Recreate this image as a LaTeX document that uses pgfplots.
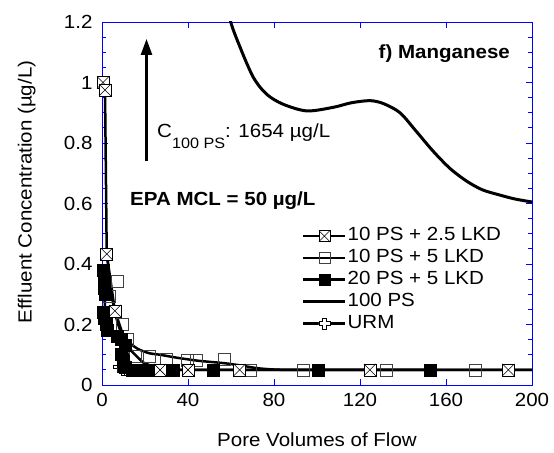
\documentclass[border=0pt]{standalone}
\usepackage{fontspec}
\setmainfont{Liberation Sans}[FakeStretch=1.08]
\usepackage{pgfplots}
\pgfplotsset{compat=1.18}
\usetikzlibrary{arrows.meta}

\pgfdeclareplotmark{boxx}{%
  \pgfpathrectangle{\pgfpoint{-\pgfplotmarksize}{-\pgfplotmarksize}}{\pgfpoint{2\pgfplotmarksize}{2\pgfplotmarksize}}%
  \pgfusepathqfillstroke
  \pgfpathmoveto{\pgfpoint{-\pgfplotmarksize}{-\pgfplotmarksize}}%
  \pgfpathlineto{\pgfpoint{\pgfplotmarksize}{\pgfplotmarksize}}%
  \pgfpathmoveto{\pgfpoint{-\pgfplotmarksize}{\pgfplotmarksize}}%
  \pgfpathlineto{\pgfpoint{\pgfplotmarksize}{-\pgfplotmarksize}}%
  \pgfusepathqstroke}
\pgfdeclareplotmark{pluso}{%
  \pgfmathsetlengthmacro{\a}{\pgfplotmarksize}%
  \pgfmathsetlengthmacro{\b}{0.35*\pgfplotmarksize}%
  \pgfpathmoveto{\pgfpoint{\b}{\a}}%
  \pgfpathlineto{\pgfpoint{\b}{\b}}%
  \pgfpathlineto{\pgfpoint{\a}{\b}}%
  \pgfpathlineto{\pgfpoint{\a}{-\b}}%
  \pgfpathlineto{\pgfpoint{\b}{-\b}}%
  \pgfpathlineto{\pgfpoint{\b}{-\a}}%
  \pgfpathlineto{\pgfpoint{-\b}{-\a}}%
  \pgfpathlineto{\pgfpoint{-\b}{-\b}}%
  \pgfpathlineto{\pgfpoint{-\a}{-\b}}%
  \pgfpathlineto{\pgfpoint{-\a}{\b}}%
  \pgfpathlineto{\pgfpoint{-\b}{\b}}%
  \pgfpathlineto{\pgfpoint{-\b}{\a}}%
  \pgfpathclose
  \pgfusepathqfillstroke}

\begin{document}
\fontsize{19bp}{22bp}\selectfont
\begin{tikzpicture}
\begin{axis}[
  scale only axis, width=430bp, height=363bp,
  xmin=0, xmax=200, ymin=0, ymax=1.2,
  xtick={0,40,80,120,160,200},
  ytick={0,0.2,0.4,0.6,0.8,1,1.2},
  minor y tick num=3,
  axis line style={blue, line width=0.8bp},
  every tick/.style={blue, line width=0.8bp},
  major tick length=6bp, minor tick length=4bp,
  tick align=inside,
  /pgf/number format/assume math mode=true,
  tick label style={font=\fontsize{19bp}{19bp}\selectfont, black},
  xticklabel style={yshift=-2bp},
  yticklabel style={xshift=-3bp},
  every axis x label/.style={at={(axis description cs:0.5,-0.152)}, anchor=center},
  every axis y label/.style={at={(axis description cs:-0.175,0.532)}, rotate=90, anchor=center},
  xlabel={Pore Volumes of Flow},
  ylabel={Effluent Concentration (µg/L)},
  label style={font=\fontsize{19bp}{19bp}\selectfont},
  clip mode=individual,
  legend cell align=left,
  legend image code/.code={\draw[mark repeat=2,mark phase=2,#1] plot coordinates {(0bp,0bp) (21bp,0bp) (42bp,0bp)};},
  legend style={draw=none, fill=none, at={(axis cs:93,0.525)}, anchor=north west,
    inner sep=0pt, row sep=2.3bp, font=\fontsize{19bp}{19bp}\selectfont,
    nodes={inner sep=1bp, text height=13.5bp, text depth=4bp}},
]
\addlegendimage{black, line width=2.5bp, mark=boxx, mark size=5.5bp, mark options={fill=white, draw=black, line width=0.6bp, solid}}
\addlegendentry{10 PS + 2.5 LKD}
\addlegendimage{black, line width=2.5bp, mark=square, mark size=5.5bp, mark options={draw=black!75, line width=0.6bp, solid}}
\addlegendentry{10 PS + 5 LKD}
\addlegendimage{black, line width=2.5bp, mark=square*, mark size=5.5bp, mark options={fill=black, draw=black, line width=0.6bp}}
\addlegendentry{20 PS + 5 LKD}
\addlegendimage{black, line width=2.5bp}
\addlegendentry{100 PS}
\addlegendimage{black, line width=2.5bp, mark=pluso, mark size=5.5bp, mark options={fill=white, draw=black, line width=0.6bp}}
\addlegendentry{URM}

% 100 PS
\addplot[forget plot, black, line width=3bp, smooth, tension=0.5] coordinates {
(57,1.33) (59.5,1.21) (64.2,1.117) (70.4,1.017) (76.6,0.961) (84.3,0.928)
(95.3,0.906) (107.6,0.918) (116,0.933) (124.7,0.94) (131,0.93) (138.6,0.9)
(146,0.84) (154,0.773) (162,0.715) (169.8,0.673) (177,0.645) (185,0.628)
(192,0.615) (200,0.605)};

% URM (mostly hidden)
\addplot[forget plot, black, line width=2.5bp] coordinates {
(8,0.06) (10,0.05) (11.5,0.05) (13,0.05)};
\addplot[forget plot, only marks, mark=pluso, mark size=5.5bp, mark options={fill=white, draw=black, line width=0.6bp}] coordinates {
(8,0.06) (10,0.05) (11.5,0.05) (13,0.05)};

% lines
\addplot[forget plot, black, line width=2.5bp, smooth, tension=0.4] coordinates {
(2.5,0.42) (4,0.32) (6,0.24) (8,0.19) (10,0.16) (13,0.138) (17,0.118) (22,0.105)
(27,0.1) (35,0.09) (45,0.08) (57,0.072) (65,0.064) (73,0.055) (85,0.05) (120,0.05) (200,0.05)};
\addplot[forget plot, black, line width=2.5bp] coordinates {
(0.5,1.0) (1.4,0.975) (2.2,0.433) (6,0.245) (10,0.16) (14,0.11) (19,0.075) (27,0.05)
(40,0.05) (64,0.05) (124.6,0.05) (189,0.05) (200,0.05)};
\addplot[forget plot, black, line width=2.5bp] coordinates {
(0.5,0.38) (1,0.35) (1.5,0.3) (1.2,0.24) (1.8,0.2) (2.5,0.18) (7,0.16) (9,0.15)
(11,0.13) (12,0.1) (12.5,0.08) (13,0.06) (14,0.05) (20,0.05) (33,0.05) (51.6,0.05)
(100.5,0.05) (152.6,0.05)};

% marks
\addplot[forget plot, only marks, mark=square, mark size=6bp, mark options={draw=black!75, line width=0.6bp}] coordinates {
(3.3,0.293) (7,0.343) (9.3,0.2) (12,0.15) (15.3,0.095) (22,0.095) (30,0.085)
(39.5,0.083) (44,0.083) (57,0.085) (69,0.05) (93.5,0.05) (132,0.05) (173.5,0.05)};
\addplot[forget plot, only marks, mark=square*, mark size=6bp, mark options={fill=black, draw=black, line width=0.6bp}] coordinates {
(0.5,0.38) (1,0.35) (1.2,0.32) (1.5,0.3) (0.8,0.24) (1.2,0.22) (1.8,0.2) (2.5,0.18)
(7,0.16) (9,0.15) (11,0.13) (9,0.1) (10,0.08) (11,0.06) (14,0.05) (17,0.05)
(20,0.05) (24,0.05) (33,0.05) (51.6,0.05) (100.5,0.05) (152.6,0.05)};
\addplot[forget plot, only marks, mark=boxx, mark size=6bp, mark options={fill=white, draw=black, line width=0.6bp}] coordinates {
(0.5,1.0) (1.4,0.975) (2.2,0.433) (6,0.245) (27,0.05) (40,0.05) (64,0.05)
(124.6,0.05) (189,0.05)};

% annotations
\draw[black, line width=2.5bp, -{Triangle[length=16bp,width=11bp]}] (axis cs:20.7,0.74) -- (axis cs:20.7,1.144);
\node[anchor=base west, inner sep=0pt, font=\fontsize{19bp}{19bp}\selectfont] at (axis cs:25.6,0.8167)
  {C\raisebox{-11bp}{\fontsize{15bp}{15bp}\selectfont 100 PS}: 1654 µg/L};
\node[anchor=base east, inner sep=0pt, font=\fontsize{19bp}{19bp}\selectfont\bfseries] at (axis cs:189.8,1.078) {f) Manganese};
\node[anchor=base west, inner sep=0pt, font=\fontsize{19bp}{19bp}\selectfont\bfseries] at (axis cs:13,0.593) {EPA MCL = 50 µg/L};

\coordinate (SW) at (rel axis cs:0,0);
\coordinate (NE) at (rel axis cs:1,1);
\end{axis}
\pgfresetboundingbox
\path[use as bounding box] ([xshift=-102bp,yshift=-68bp]SW) rectangle ([xshift=22bp,yshift=22bp]NE);
\end{tikzpicture}
\end{document}
